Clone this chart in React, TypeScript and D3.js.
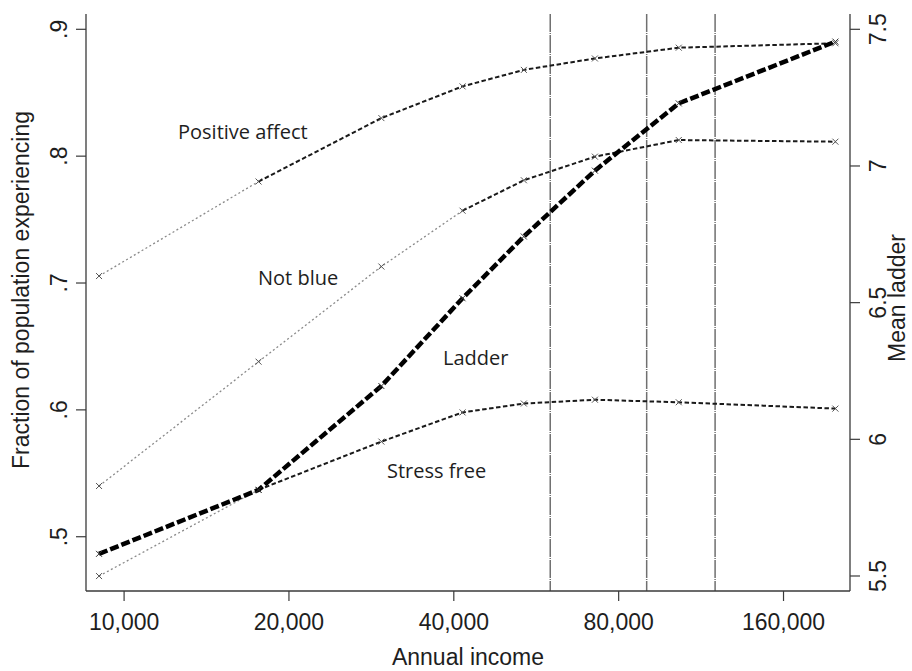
import React from "react";
import * as d3 from "d3";

// ---- data ----
const incomes = [9000, 17600, 29500, 41500, 53700, 72400, 103000, 199000];
const positiveAffect = [0.7055, 0.78, 0.83, 0.855, 0.868, 0.877, 0.8855, 0.889];
const notBlue = [0.54, 0.638, 0.713, 0.757, 0.781, 0.7996, 0.8127, 0.8114];
const stressFree = [0.469, 0.537, 0.575, 0.598, 0.605, 0.608, 0.606, 0.601];
const ladder = [5.581, 5.815, 6.195, 6.516, 6.742, 6.983, 7.229, 7.455];
const xTicks = [10000, 20000, 40000, 80000, 160000];
const leftTicks = [0.5, 0.6, 0.7, 0.8, 0.9];
const leftTickLabels = [".5", ".6", ".7", ".8", ".9"];
const rightTicks = [5.5, 6, 6.5, 7, 7.5];
const rightTickLabels = ["5.5", "6", "6.5", "7", "7.5"];
const refLines = [60000, 90000, 120000];
// number of leading segments drawn with the faint dotted style
const faintSegments = { positive: 1, notBlue: 3, stress: 1 };

const W = 912;
const H = 671;
const L = 86, R = 850, T = 14, B = 591;

export default function App() {
  const x = d3.scaleLog().base(2).domain([8520, 211600]).range([L, R]);
  const yL = d3.scaleLinear().domain([0.45722, 0.91206]).range([B, T]);
  const yR = d3.scaleLinear().domain([5.4451, 7.5560]).range([B, T]);

  const lineL = d3.line<[number, number]>().x(d => x(d[0])).y(d => yL(d[1]));
  const lineR = d3.line<[number, number]>().x(d => x(d[0])).y(d => yR(d[1]));

  const axisColor = "#3a3a3a";
  const textColor = "#1e1e1e";
  const axisFont = "Liberation Sans, Arial, sans-serif";
  const annFont = "'Open Sans', sans-serif";

  const series = (vals: number[], nFaint: number, key: string) => {
    const pts: [number, number][] = incomes.map((v, i) => [v, vals[i]]);
    const faint = pts.slice(0, nFaint + 1);
    const dark = pts.slice(nFaint);
    return (
      <g key={key}>
        <path d={lineL(faint) || ""} fill="none" stroke="#8a8a8a" strokeWidth={1.3} strokeDasharray="2 2.5" />
        <path d={lineL(dark) || ""} fill="none" stroke="#1a1a1a" strokeWidth={2} strokeDasharray="4.5 2.5" />
        {pts.map((p, i) => {
          const cx = x(p[0]), cy = yL(p[1]);
          return (
            <path key={i} d={`M${cx - 3},${cy - 3}L${cx + 3},${cy + 3}M${cx - 3},${cy + 3}L${cx + 3},${cy - 3}`} stroke="#555" strokeWidth={1} />
          );
        })}
      </g>
    );
  };

  const ladderPts: [number, number][] = incomes.map((v, i) => [v, ladder[i]]);

  return (
    <svg width={W} height={H} style={{ position: "absolute", left: 0, top: 0, background: "#fff" }}>
      <rect x={0} y={0} width={W} height={H} fill="#fff" />
      {/* reference vertical lines */}
      {refLines.map((v, i) => (
        <line key={i} x1={x(v)} x2={x(v)} y1={T} y2={B} stroke="#707070" strokeWidth={1.5} strokeDasharray="18 1 1 1" />
      ))}
      {/* series */}
      {series(positiveAffect, faintSegments.positive, "pa")}
      {series(notBlue, faintSegments.notBlue, "nb")}
      {series(stressFree, faintSegments.stress, "sf")}
      <path d={lineR(ladderPts) || ""} fill="none" stroke="#000" strokeWidth={4.5} strokeDasharray="9 3" />
      {ladderPts.map((p, i) => {
        const cx = x(p[0]), cy = yR(p[1]);
        return <path key={i} d={`M${cx - 3},${cy - 3}L${cx + 3},${cy + 3}M${cx - 3},${cy + 3}L${cx + 3},${cy - 3}`} stroke="#333" strokeWidth={1} />;
      })}

      {/* axes */}
      <line x1={L} x2={L} y1={T} y2={B} stroke={axisColor} strokeWidth={1.3} />
      <line x1={R} x2={R} y1={T} y2={B} stroke={axisColor} strokeWidth={1.3} />
      <line x1={L} x2={R} y1={B} y2={B} stroke={axisColor} strokeWidth={1.3} />

      {leftTicks.map((v, i) => (
        <g key={i}>
          <line x1={L - 10} x2={L} y1={yL(v)} y2={yL(v)} stroke={axisColor} strokeWidth={1.2} />
          <text transform={`translate(67,${yL(v)}) rotate(-90)`} textAnchor="middle" fontFamily={axisFont} fontSize={23} fill={textColor}>{leftTickLabels[i]}</text>
        </g>
      ))}
      {rightTicks.map((v, i) => (
        <g key={i}>
          <line x1={R} x2={R + 10} y1={yR(v)} y2={yR(v)} stroke={axisColor} strokeWidth={1.2} />
          <text transform={`translate(886,${yR(v)}) rotate(-90)`} textAnchor="middle" fontFamily={axisFont} fontSize={23} fill={textColor}>{rightTickLabels[i]}</text>
        </g>
      ))}
      {xTicks.map((v, i) => (
        <g key={i}>
          <line x1={x(v)} x2={x(v)} y1={B} y2={B + 10} stroke={axisColor} strokeWidth={1.2} />
          <text x={x(v)} y={630} textAnchor="middle" fontFamily={axisFont} fontSize={23} fill={textColor}>{d3.format(",")(v)}</text>
        </g>
      ))}

      {/* axis titles */}
      <text x={(L + R) / 2} y={665} textAnchor="middle" fontFamily={axisFont} fontSize={23} fill={textColor}>Annual income</text>
      <text transform={`translate(29,290) rotate(-90)`} textAnchor="middle" fontFamily={axisFont} fontSize={23} fill={textColor}>Fraction of population experiencing</text>
      <text transform={`translate(905,298) rotate(-90)`} textAnchor="middle" fontFamily={axisFont} fontSize={23} fill={textColor}>Mean ladder</text>

      {/* annotations */}
      <text x={178} y={139} fontFamily={annFont} fontSize={20} fill={textColor}>Positive affect</text>
      <text x={258} y={285} fontFamily={annFont} fontSize={20} fill={textColor}>Not blue</text>
      <text x={443} y={365} fontFamily={annFont} fontSize={20} fill={textColor}>Ladder</text>
      <text x={387} y={478} fontFamily={annFont} fontSize={20} fill={textColor}>Stress free</text>
    </svg>
  );
}
